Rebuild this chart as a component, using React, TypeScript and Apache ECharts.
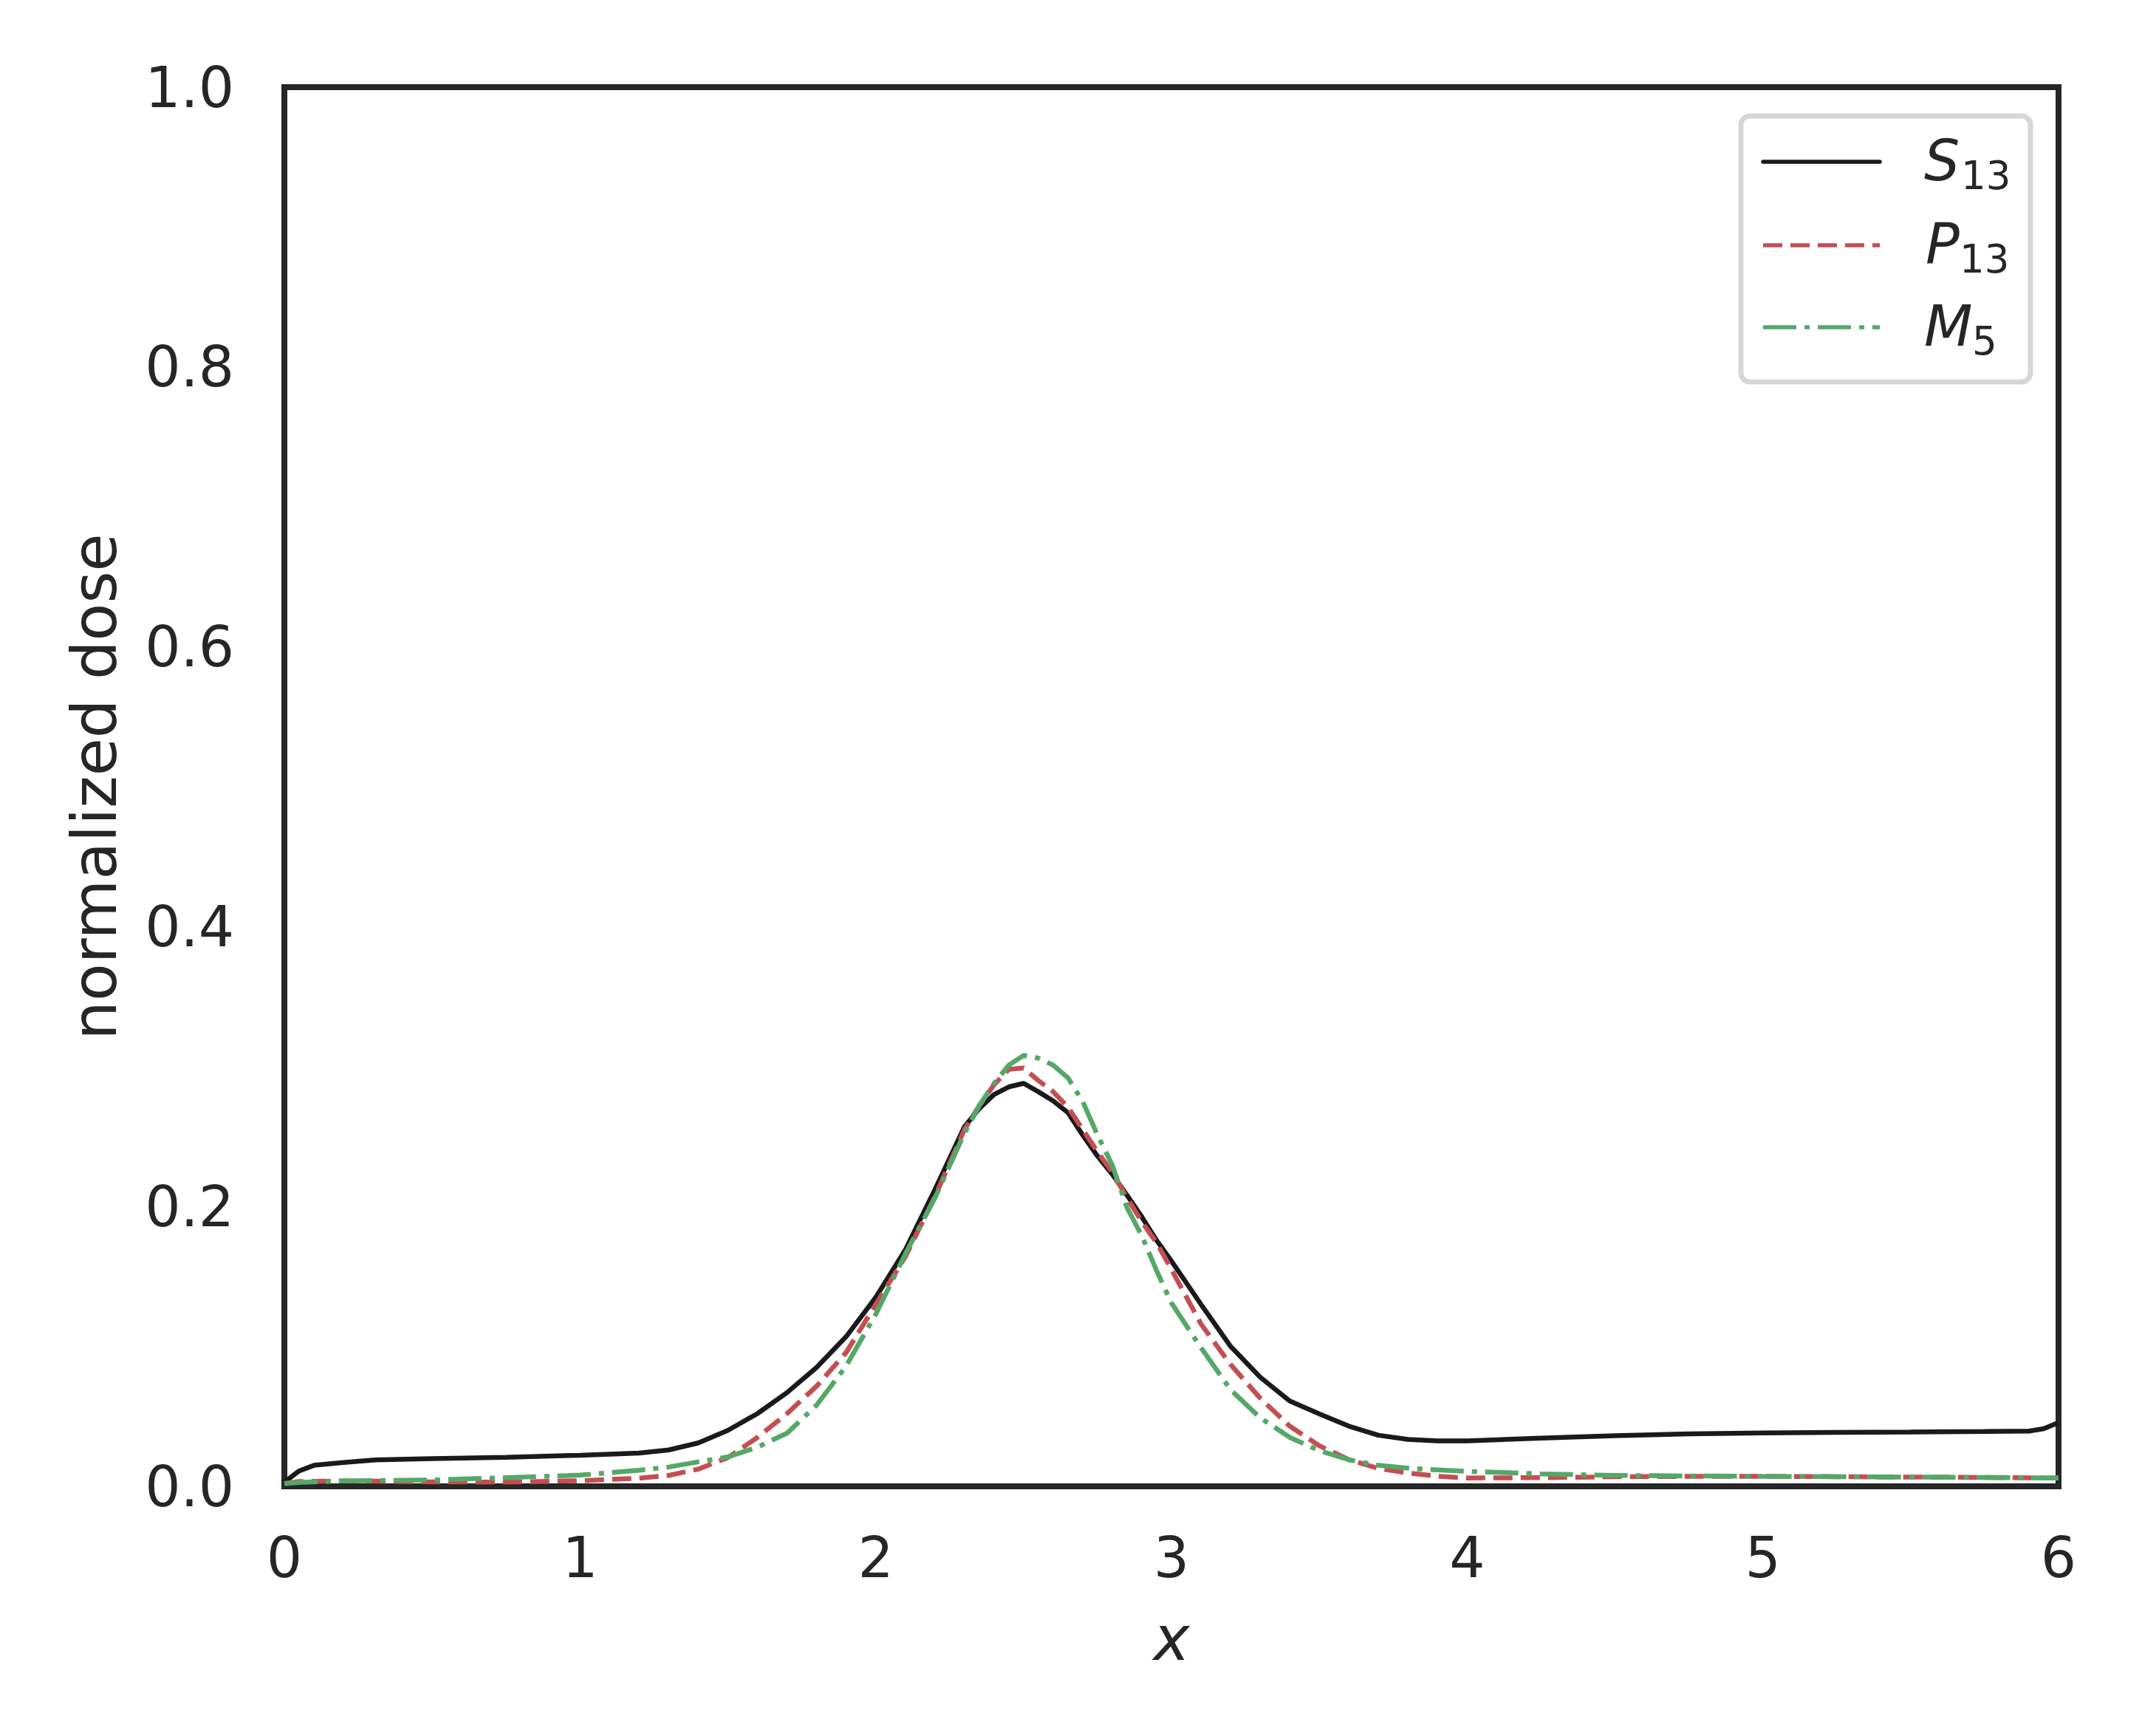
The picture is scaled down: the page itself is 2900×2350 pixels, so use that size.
import React, { useEffect, useRef } from "react";
import * as echarts from "echarts";

const X = [0, 0.05, 0.1, 0.2, 0.3, 0.5, 0.75, 1.0, 1.2, 1.3, 1.4, 1.5, 1.6, 1.7, 1.8, 1.9, 2.0, 2.1, 2.2, 2.3, 2.35, 2.4, 2.45, 2.5, 2.55, 2.6, 2.65, 2.7, 2.75, 2.8, 2.85, 2.9, 2.95, 3.0, 3.1, 3.2, 3.3, 3.4, 3.5, 3.6, 3.7, 3.8, 3.9, 4.0, 4.25, 4.5, 4.75, 5.0, 5.25, 5.5, 5.75, 5.9, 5.95, 6.0];

const S13 = [0.003, 0.011, 0.015, 0.017, 0.0188, 0.0198, 0.0207, 0.0222, 0.0238, 0.026, 0.031, 0.040, 0.052, 0.067, 0.085, 0.107, 0.135, 0.169, 0.212, 0.257, 0.270, 0.280, 0.2855, 0.288, 0.282, 0.2755, 0.267, 0.251, 0.236, 0.223, 0.208, 0.1925, 0.1757, 0.161, 0.130, 0.100, 0.078, 0.061, 0.0518, 0.043, 0.0365, 0.0335, 0.0325, 0.0325, 0.0345, 0.0362, 0.0375, 0.0382, 0.0385, 0.0388, 0.0392, 0.0395, 0.0412, 0.0455];

const P13 = [0.002, 0.0034, 0.0036, 0.0038, 0.0037, 0.0032, 0.003, 0.004, 0.0058, 0.0078, 0.0123, 0.0205, 0.035, 0.052, 0.0716, 0.0957, 0.130, 0.164, 0.207, 0.255, 0.272, 0.287, 0.298, 0.299, 0.290, 0.282, 0.271, 0.255, 0.239, 0.2245, 0.206, 0.189, 0.174, 0.155, 0.116, 0.087, 0.063, 0.043, 0.029, 0.019, 0.0128, 0.0095, 0.0072, 0.006, 0.0062, 0.0068, 0.0071, 0.0071, 0.0069, 0.0066, 0.0063, 0.0061, 0.006, 0.006];

const M5 = [0.002, 0.0028, 0.0032, 0.0038, 0.0041, 0.0045, 0.0062, 0.008, 0.0115, 0.0138, 0.0175, 0.021, 0.028, 0.038, 0.058, 0.086, 0.123, 0.166, 0.206, 0.2525, 0.272, 0.288, 0.301, 0.308, 0.306, 0.301, 0.292, 0.275, 0.251, 0.2295, 0.199, 0.179, 0.154, 0.131, 0.099, 0.069, 0.049, 0.035, 0.0255, 0.019, 0.015, 0.013, 0.0117, 0.0107, 0.0089, 0.0078, 0.0074, 0.0071, 0.0069, 0.0066, 0.0063, 0.0061, 0.006, 0.006];

const SERIES_NAMES = ["S13", "P13", "M5"];
const LEGEND_MAIN = ["S", "P", "M"];
const LEGEND_SUB = ["13", "13", "5"];
const COLORS = ["#1a1a1a", "#C44E52", "#55A868"];
const DASHES: any[] = ["solid", [26, 11], [45, 11, 7, 11]];

const FONT = "DejaVu Sans";
const TEXT = "#262626";

export default function App() {
  const ref = useRef<HTMLDivElement>(null);
  useEffect(() => {
    if (!ref.current) return;
    const chart = echarts.init(ref.current, null, { renderer: "svg" });
    const values = [S13, P13, M5];
    const series = values.map((vals, i) => ({
      name: SERIES_NAMES[i],
      type: "line",
      data: X.map((x, j) => [x, vals[j]]),
      showSymbol: false,
      symbol: "none",
      smooth: false,
      clip: true,
      lineStyle: { color: COLORS[i], width: 6.5, type: DASHES[i] },
      z: 2 + i,
    }));

    const legendX0 = 2357, legendY0 = 157;
    const rowY = [219, 332, 443];
    const mainX = [2605, 2607, 2605];
    const subX = [2655, 2653, 2670];
    const legendEls: any[] = [
      {
        type: "rect",
        shape: { x: legendX0, y: legendY0, width: 392, height: 360, r: 12 },
        style: { fill: "#ffffff", stroke: "#d6d6d6", lineWidth: 7 },
        z: 10,
      },
    ];
    SERIES_NAMES.forEach((_, i) => {
      legendEls.push({
        type: "line",
        shape: { x1: 2387, y1: rowY[i], x2: 2545, y2: rowY[i] },
        style: {
          stroke: COLORS[i],
          lineWidth: 5.5,
          lineDash: DASHES[i] === "solid" ? null : DASHES[i],
          lineCap: i === 0 ? "round" : "butt",
        },
        z: 11,
      });
      legendEls.push({
        type: "text",
        x: mainX[i],
        y: rowY[i] - 2,
        style: {
          text: LEGEND_MAIN[i],
          font: `italic 76px "${FONT}"`,
          fill: TEXT,
          align: "left",
          verticalAlign: "middle",
        },
        z: 11,
      });
      legendEls.push({
        type: "text",
        x: subX[i],
        y: rowY[i] + 18,
        style: {
          text: LEGEND_SUB[i],
          font: `53px "${FONT}"`,
          fill: TEXT,
          align: "left",
          verticalAlign: "middle",
        },
        z: 11,
      });
    });

    chart.setOption({
      animation: false,
      backgroundColor: "#ffffff",
      grid: {
        left: 385,
        top: 118,
        width: 2402,
        height: 1894,
        show: true,
        borderColor: "#262626",
        borderWidth: 8,
        backgroundColor: "transparent",
      },
      xAxis: {
        type: "value",
        min: 0,
        max: 6,
        interval: 1,
        name: "x",
        nameLocation: "middle",
        nameGap: 165,
        nameTextStyle: { fontFamily: FONT, fontSize: 83, fontStyle: "italic", color: TEXT },
        axisLine: { show: false },
        axisTick: { show: false },
        splitLine: { show: false },
        axisLabel: { fontFamily: FONT, fontSize: 76, color: TEXT, margin: 58 },
      },
      yAxis: {
        type: "value",
        min: 0,
        max: 1,
        interval: 0.2,
        name: "normalized dose",
        nameLocation: "middle",
        nameGap: 215,
        nameTextStyle: { fontFamily: FONT, fontSize: 83, color: TEXT },
        axisLine: { show: false },
        axisTick: { show: false },
        splitLine: { show: false },
        axisLabel: {
          fontFamily: FONT,
          fontSize: 76,
          color: TEXT,
          margin: 68,
          formatter: (v: number) => v.toFixed(1),
        },
      },
      series,
      graphic: legendEls,
    });
    return () => chart.dispose();
  }, []);
  return (
    <div
      ref={ref}
      style={{ position: "fixed", left: 0, top: 0, width: 2900, height: 2350, background: "#fff" }}
    />
  );
}
